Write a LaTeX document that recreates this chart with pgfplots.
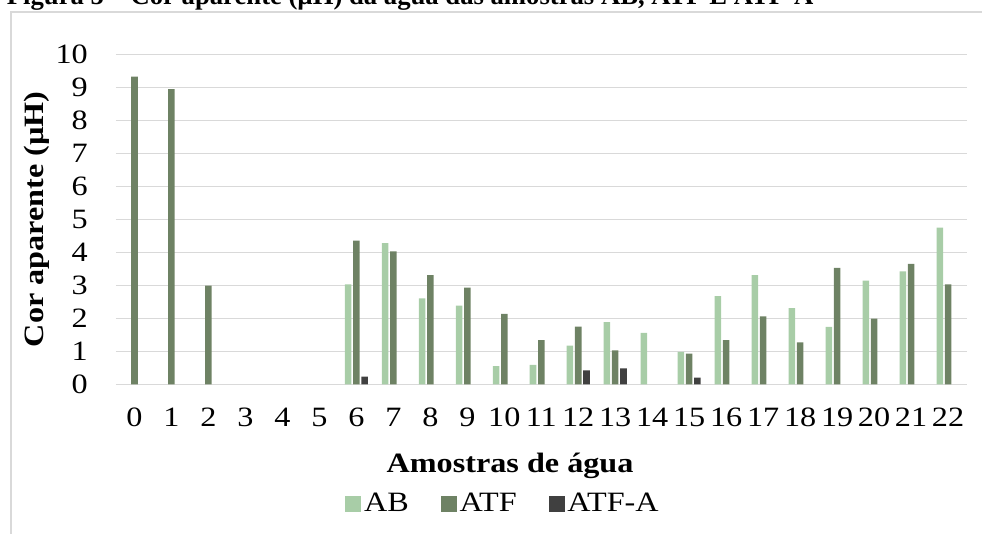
\documentclass[border=0pt]{standalone}
\usepackage{pgfplots}
\pgfplotsset{compat=1.18}
\usepackage{fontspec}
\setmainfont[FakeStretch=1.15]{Liberation Serif}
\newfontfamily\titlefont{Liberation Serif}
\definecolor{cAB}{RGB}{168,205,167}
\definecolor{cATF}{RGB}{110,130,100}
\definecolor{cATFA}{RGB}{64,64,64}
\definecolor{gridc}{RGB}{217,217,217}
\begin{document}
\fontsize{21}{25}\selectfont
\begin{tikzpicture}
\clip (0,0) rectangle (736.5pt,400.5pt);
\draw[gridc, line width=1.5pt] (8.25pt,-10pt) -- (8.25pt,391.5pt) -- (760pt,391.5pt);
\node[anchor=base west, inner sep=0pt, font=\titlefont\fontsize{20}{24}\selectfont\bfseries] at (5pt,397.1pt) {Figura 5 – Cor aparente (µH) da água das amostras AB, ATF E ATF-A};
\begin{axis}[
  at={(87pt,112.3pt)}, anchor=south west,
  scale only axis, width=637.9pt, height=247.5pt,
  ybar=1.3pt, bar width=4.9pt,
  xmin=-0.5, xmax=22.5, ymin=0, ymax=10,
  xtick={0,...,22}, ytick={0,...,10},
  axis line style={draw=none},
  ymajorgrids, grid style={gridc, line width=1pt},
  major tick length=0pt,
  tick style={draw=none},
  /pgf/number format/assume math mode=true,
  tick label style={font=\fontsize{21}{25}\selectfont},
  yticklabel style={anchor=east, inner sep=0pt, xshift=-21pt},
  xticklabel style={anchor=north, inner sep=0pt, yshift=-17.5pt},
  xlabel={Amostras de água},
  ylabel={Cor aparente (µH)},
  label style={font=\fontsize{21}{25}\selectfont\bfseries},
  xlabel style={at={(axis description cs:0.4633,-0.268)}, anchor=base},
  ylabel style={at={(axis description cs:-0.0929,0.5)}, anchor=center},
  legend columns=3,
  legend style={draw=none, fill=none, at={(axis description cs:0.4555,-0.3627)}, anchor=center,
    font=\fontsize{21}{25}\selectfont, /tikz/every even column/.append style={column sep=22pt}},
  legend image code/.code={\fill[#1] (-4pt,-6pt) rectangle (8pt,6pt);},
]
\addplot[fill=cAB, draw=none] coordinates {
 (6,3.03) (7,4.28) (8,2.60) (9,2.38) (10,0.55) (11,0.59) (12,1.17) (13,1.88) (14,1.56)
 (15,0.98) (16,2.67) (17,3.31) (18,2.31) (19,1.74) (20,3.14) (21,3.42) (22,4.75)};
\addplot[fill=cATF, draw=none] coordinates {
 (0,9.32) (1,8.94) (2,2.99) (6,4.35) (7,4.03) (8,3.31) (9,2.93) (10,2.13) (11,1.34)
 (12,1.75) (13,1.03) (15,0.93) (16,1.34) (17,2.06) (18,1.27) (19,3.53) (20,1.99) (21,3.65) (22,3.03)};
\addplot[fill=cATFA, draw=none] coordinates {
 (6,0.23) (12,0.42) (13,0.48) (15,0.20)};
\legend{AB,ATF,ATF-A}
\end{axis}
\end{tikzpicture}
\end{document}
